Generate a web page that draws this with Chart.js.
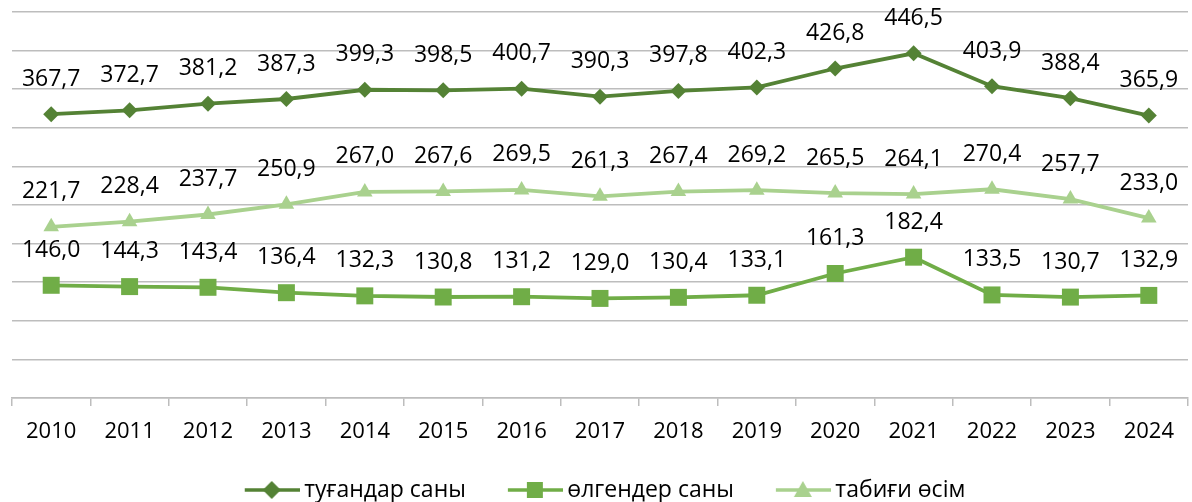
<!DOCTYPE html>
<html>
<head>
<meta charset="utf-8">
<script src="https://cdn.jsdelivr.net/npm/chart.js@4/dist/chart.umd.min.js"></script>
<style>
  html, body { margin: 0; padding: 0; background: #fff; overflow: hidden; }
  #wrap { width: 1200px; height: 502px; }
</style>
</head>
<body>
<div id="wrap"><canvas id="canvas" width="1200" height="502"></canvas></div>
<script>
const years = ['2010', '2011', '2012', '2013', '2014', '2015', '2016', '2017', '2018', '2019', '2020', '2021', '2022', '2023', '2024'];
const births = [367.7, 372.7, 381.2, 387.3, 399.3, 398.5, 400.7, 390.3, 397.8, 402.3, 426.8, 446.5, 403.9, 388.4, 365.9];
const deaths = [146.0, 144.3, 143.4, 136.4, 132.3, 130.8, 131.2, 129.0, 130.4, 133.1, 161.3, 182.4, 133.5, 130.7, 132.9];
const growth = [221.7, 228.4, 237.7, 250.9, 267.0, 267.6, 269.5, 261.3, 267.4, 269.2, 265.5, 264.1, 270.4, 257.7, 233.0];
const seriesNames = ['туғандар саны', 'өлгендер саны', 'табиғи өсім'];

const FONT = "'Open Sans', 'Noto Sans', sans-serif";
const gridColor = '#BDBDBD';
const colors = ['#548235', '#70AD47', '#A9D18E'];
const shapes = ['rectRot', 'rect', 'triangle'];
const radii = [8, 12, 9];

// legend icon: short line with the marker in the middle
function legendIcon(color, shape) {
    const c = document.createElement('canvas');
    c.width = 62; c.height = 22;
    const g = c.getContext('2d');
    g.strokeStyle = color;
    g.fillStyle = color;
    g.lineWidth = 3.5;
    g.beginPath();
    g.moveTo(7, 11); g.lineTo(62, 11);
    g.stroke();
    g.beginPath();
    const cx = 34, cy = 11;
    if (shape === 'rectRot') {
        g.moveTo(cx, cy - 9); g.lineTo(cx + 9, cy); g.lineTo(cx, cy + 9); g.lineTo(cx - 9, cy);
    } else if (shape === 'rect') {
        g.rect(cx - 8, cy - 8, 16, 16);
    } else {
        g.moveTo(cx, cy - 9); g.lineTo(cx + 9, cy + 7); g.lineTo(cx - 9, cy + 7);
    }
    g.closePath();
    g.fill();
    return c;
}
const legendIcons = colors.map((c, i) => legendIcon(c, shapes[i]));

function fmt(v) {
    return v.toFixed(1).replace('.', ',');
}

// value labels above each point
const valueLabels = {
    id: 'valueLabels',
    afterDatasetsDraw(chart) {
        const ctx = chart.ctx;
        ctx.save();
        ctx.font = '23px ' + FONT;
        ctx.fillStyle = '#000';
        ctx.textAlign = 'center';
        ctx.textBaseline = 'middle';
        chart.data.datasets.forEach((ds, i) => {
            const meta = chart.getDatasetMeta(i);
            meta.data.forEach((pt, j) => {
                ctx.fillText(fmt(ds.data[j]), pt.x, pt.y - 35);
            });
        });
        ctx.restore();
    }
};

const data = {
    labels: years,
    datasets: [births, deaths, growth].map((vals, i) => ({
        label: seriesNames[i],
        data: vals,
        borderColor: colors[i],
        backgroundColor: colors[i],
        borderWidth: 3.8,
        pointStyle: shapes[i],
        pointRadius: radii[i],
        pointHoverRadius: radii[i],
        pointBorderWidth: 0,
        tension: 0,
        clip: false
    }))
};

const defaultLabels = Chart.defaults.plugins.legend.labels.generateLabels;

new Chart(document.getElementById('canvas').getContext('2d'), {
    type: 'line',
    data: data,
    plugins: [valueLabels],
    options: {
        responsive: false,
        animation: false,
        devicePixelRatio: 1,
        layout: { padding: { left: 10, top: 12, right: 0, bottom: 0 } },
        scales: {
            x: {
                offset: true,
                grid: { offset: true, drawOnChartArea: false, drawTicks: true, tickLength: 8, color: gridColor, lineWidth: 1.5 },
                border: { display: true, color: gridColor, width: 1.5 },
                ticks: { color: '#000', padding: 13, font: { family: FONT, size: 22 }, maxRotation: 0 },
                afterFit: (scale) => { scale.height = 50.5; }
            },
            y: {
                min: 0,
                max: 500,
                ticks: { display: false, stepSize: 50 },
                grid: { drawTicks: false, color: gridColor, lineWidth: 1.5 },
                border: { display: false }
            }
        },
        plugins: {
            tooltip: { enabled: false },
            legend: {
                position: 'bottom',
                maxHeight: 53.5,
                labels: {
                    usePointStyle: true,
                    pointStyleWidth: 48,
                    boxHeight: 20,
                    padding: 30,
                    color: '#000',
                    font: { family: FONT, size: 23 },
                    // trailing spaces widen the gap between items without adding vertical padding
                    generateLabels: (chart) => defaultLabels(chart).map((l, i) => Object.assign(l, {
                        pointStyle: legendIcons[i],
                        text: i < 2 ? l.text + '  ' : l.text
                    }))
                }
            }
        }
    }
});
</script>
</body>
</html>
